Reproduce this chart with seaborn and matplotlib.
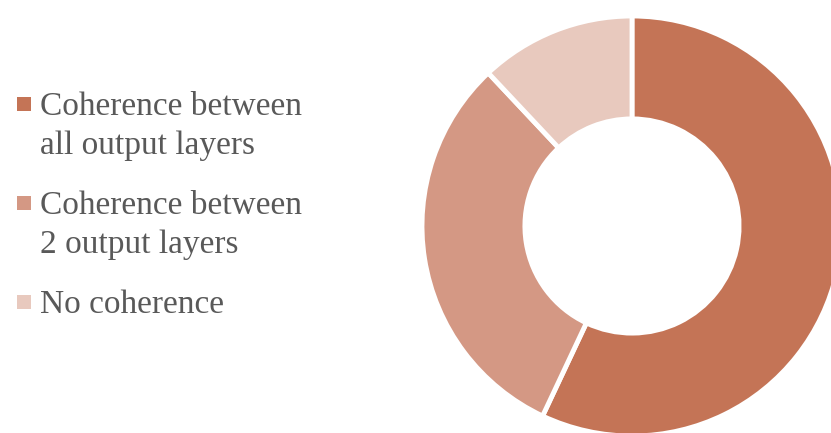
import matplotlib.pyplot as plt
import matplotlib.patches as mpatches
import seaborn as sns

# ---- Data ----
labels = ["Coherence between\nall output layers",
          "Coherence between\n2 output layers",
          "No coherence"]
values = [57, 31, 12]
colors = ["#C47456", "#D49884", "#E8C9BE"]

sns.set_theme(style="white")
plt.rcParams["font.family"] = ["Liberation Serif", "DejaVu Serif"]
text_col = "#595959"

W, H = 831, 433
fig = plt.figure(figsize=(W / 100, H / 100), dpi=100)

# ---- Donut ----
cx, cy, r = 632, 226, 210
ax = fig.add_axes([(cx - r) / W, (H - cy - r) / H, 2 * r / W, 2 * r / H])
ax.pie(values, colors=colors, startangle=90, counterclock=False, radius=1,
       wedgeprops=dict(width=0.49, edgecolor="white", linewidth=3.5))
ax.set_xlim(-1, 1)
ax.set_ylim(-1, 1)
ax.set_aspect("equal")
ax.axis("off")

# ---- Legend (pixel coords) ----
lg = fig.add_axes([0, 0, 1, 1], zorder=-1)
lg.set_xlim(0, W)
lg.set_ylim(H, 0)
lg.axis("off")

base0, step, line_h = 115, 99, 39
for i, (lab, col) in enumerate(zip(labels, colors)):
    b = base0 + step * i
    lg.add_patch(mpatches.Rectangle((17, b - 18), 14, 14, color=col, lw=0))
    for j, line in enumerate(lab.split("\n")):
        lg.text(40, b + j * line_h, line, fontsize=24, color=text_col,
                va="baseline", ha="left")

fig.savefig("out.png", dpi=100)
